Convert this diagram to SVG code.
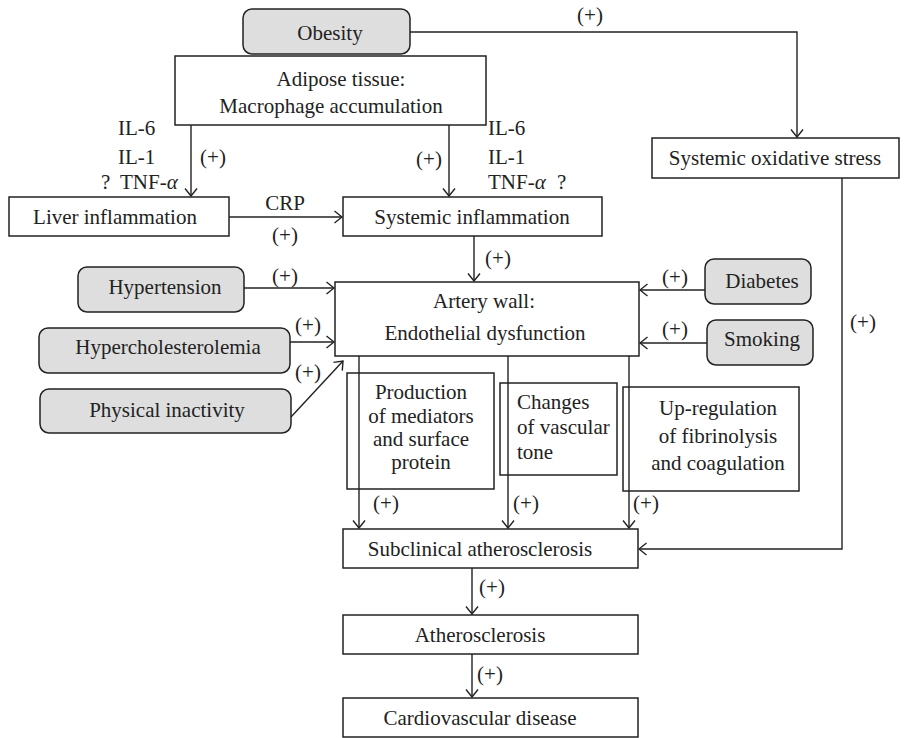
<svg xmlns="http://www.w3.org/2000/svg" width="904" height="738" viewBox="0 0 904 738">
<defs>
<marker id="ah" viewBox="0 0 10 14" refX="9" refY="7" markerWidth="10" markerHeight="14" orient="auto" markerUnits="userSpaceOnUse">
<path d="M1.5,1 L9,7 L1.5,13" fill="none" stroke="#222" stroke-width="1.4"/>
</marker>
<style>
.b{fill:#fff;stroke:#222;stroke-width:1.5}
.g{fill:#dedede;stroke:#222;stroke-width:1.5}
text{font-family:"Liberation Serif","Times New Roman",serif;font-size:21px;fill:#222}
.c{text-anchor:middle}
.p{font-size:21px}
.l{fill:none;stroke:#222;stroke-width:1.4}
.a{fill:none;stroke:#222;stroke-width:1.4;marker-end:url(#ah)}
</style>
</defs>
<rect width="904" height="738" fill="#fff"/>

<g id="connectors">
<polyline class="a" points="410,32 797,32 797,137"/>
<line class="a" x1="191" y1="125" x2="191" y2="196"/>
<line class="a" x1="449" y1="125" x2="449" y2="196"/>
<line class="a" x1="229" y1="217" x2="342" y2="217"/>
<line class="a" x1="474" y1="236" x2="474" y2="281"/>
<line class="a" x1="244" y1="288" x2="334" y2="288"/>
<line class="a" x1="290" y1="342" x2="334" y2="342"/>
<line class="a" x1="291" y1="417" x2="343" y2="361"/>
<line class="a" x1="705" y1="290" x2="640" y2="290"/>
<line class="a" x1="707" y1="343" x2="640" y2="343"/>
<line class="a" x1="359" y1="356" x2="359" y2="528"/>
<line class="a" x1="508" y1="356" x2="508" y2="528"/>
<line class="a" x1="629" y1="356" x2="629" y2="528"/>
<polyline class="a" points="842,178 842,549 639,549"/>
<line class="a" x1="472" y1="568" x2="472" y2="614"/>
<line class="a" x1="472" y1="654" x2="472" y2="697"/>
</g>

<g id="edge-labels">
<text class="c p" x="590" y="22">(+)</text>
<text x="118" y="135">IL-6</text>
<text x="118" y="164">IL-1</text>
<text x="101" y="189">?</text>
<text x="120" y="189">TNF-<tspan font-style="italic">α</tspan></text>
<text class="c p" x="213" y="164">(+)</text>
<text class="c p" x="429" y="166">(+)</text>
<text x="488" y="135">IL-6</text>
<text x="488" y="164">IL-1</text>
<text x="488" y="189">TNF-<tspan font-style="italic">α</tspan></text>
<text x="557" y="189">?</text>
<text class="c" x="285" y="210">CRP</text>
<text class="c p" x="285" y="242">(+)</text>
<text class="c p" x="498" y="265">(+)</text>
<text class="c p" x="285" y="283">(+)</text>
<text class="c p" x="308" y="332">(+)</text>
<text class="c p" x="308" y="379">(+)</text>
<text class="c p" x="675" y="284">(+)</text>
<text class="c p" x="675" y="336">(+)</text>
<text class="c p" x="863" y="329">(+)</text>
<text class="c p" x="386" y="510">(+)</text>
<text class="c p" x="526" y="510">(+)</text>
<text class="c p" x="646" y="510">(+)</text>
<text class="c p" x="492" y="594">(+)</text>
<text class="c p" x="490" y="681">(+)</text>
</g>

<g id="obesity"><rect class="g" x="243" y="9" width="167" height="45" rx="9"/><text class="c" x="330" y="40">Obesity</text></g>
<g id="adipose"><rect class="b" x="175" y="56" width="311" height="69"/><text class="c" x="341" y="86">Adipose tissue:</text><text class="c" x="331" y="113">Macrophage accumulation</text></g>
<g id="oxidative"><rect class="b" x="652" y="138" width="247" height="40"/><text class="c" x="775" y="165">Systemic oxidative stress</text></g>
<g id="liver"><rect class="b" x="9" y="197" width="220" height="39"/><text class="c" x="115" y="224">Liver inflammation</text></g>
<g id="systemic"><rect class="b" x="343" y="197" width="259" height="39"/><text class="c" x="472" y="224">Systemic inflammation</text></g>
<g id="hypertension"><rect class="g" x="78" y="267" width="166" height="45" rx="9"/><text class="c" x="165" y="294">Hypertension</text></g>
<g id="hypercholesterolemia"><rect class="g" x="39" y="328" width="251" height="45" rx="9"/><text class="c" x="168" y="354">Hypercholesterolemia</text></g>
<g id="inactivity"><rect class="g" x="40" y="389" width="251" height="44" rx="9"/><text class="c" x="167" y="417">Physical inactivity</text></g>
<g id="diabetes"><rect class="g" x="705" y="259" width="106" height="45" rx="9"/><text class="c" x="762" y="288">Diabetes</text></g>
<g id="smoking"><rect class="g" x="707" y="320" width="106" height="45" rx="9"/><text class="c" x="762" y="346">Smoking</text></g>
<g id="artery"><rect class="b" x="335" y="282" width="304" height="74"/><text class="c" x="484" y="308">Artery wall:</text><text class="c" x="485" y="340">Endothelial dysfunction</text></g>
<g id="production"><rect class="b" x="347" y="373" width="147" height="116"/>
<text class="c" x="421" y="399">Production</text><text class="c" x="421" y="423">of mediators</text><text class="c" x="421" y="446">and surface</text><text class="c" x="421" y="469">protein</text></g>
<g id="changes"><rect class="b" x="500" y="383" width="117" height="92"/>
<text x="517" y="409">Changes</text><text x="517" y="434">of vascular</text><text x="517" y="459">tone</text></g>
<g id="upregulation"><rect class="b" x="623" y="387" width="176" height="104"/>
<text class="c" x="718" y="415">Up-regulation</text><text class="c" x="718" y="443">of fibrinolysis</text><text class="c" x="718" y="470">and coagulation</text></g>
<line class="l" x1="359" y1="373" x2="359" y2="489"/>
<line class="l" x1="508" y1="383" x2="508" y2="475"/>
<line class="l" x1="629" y1="387" x2="629" y2="491"/>
<g id="subclinical"><rect class="b" x="343" y="529" width="295" height="39"/><text class="c" x="480" y="556">Subclinical atherosclerosis</text></g>
<g id="atherosclerosis"><rect class="b" x="343" y="615" width="295" height="39"/><text class="c" x="480" y="642">Atherosclerosis</text></g>
<g id="cvd"><rect class="b" x="343" y="698" width="295" height="39"/><text class="c" x="480" y="725">Cardiovascular disease</text></g>
</svg>
